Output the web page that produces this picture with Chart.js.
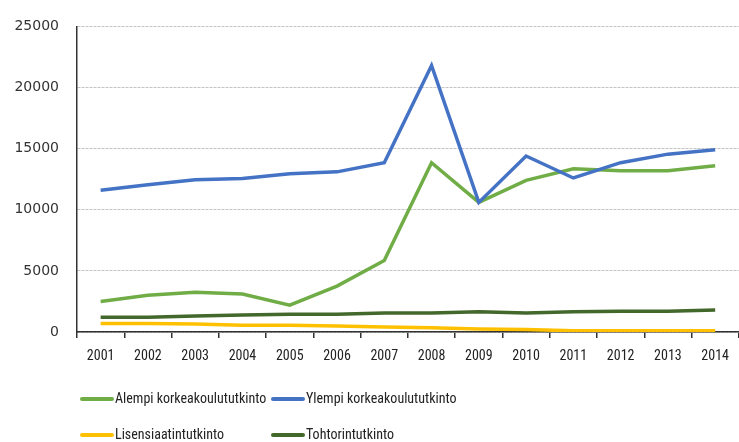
<!DOCTYPE html>
<html><head><meta charset="utf-8">
<script src="https://cdn.jsdelivr.net/npm/chart.js@4/dist/chart.umd.min.js"></script>
<style>html,body{margin:0;padding:0;background:#fff;}#wrap{width:739px;height:442px;position:relative;}</style>
</head><body><div id="wrap"><canvas id="c" width="739" height="442"></canvas></div>
<script>
const years = ['2001','2002','2003','2004','2005','2006','2007','2008','2009','2010','2011','2012','2013','2014'];
const alempi = [2500,3000,3250,3100,2200,3750,5850,13850,10600,12400,13350,13200,13200,13600];
const ylempi = [11600,12050,12450,12550,12950,13100,13850,21800,10600,14400,12600,13850,14550,14900];
const lisensiaatti = [700,700,650,550,550,500,400,350,250,200,100,100,100,100];
const tohtori = [1200,1200,1300,1400,1450,1450,1550,1550,1650,1550,1650,1700,1700,1800];
const seriesNames = ['Alempi korkeakoulututkinto','Ylempi korkeakoulututkinto','Lisensiaatintutkinto','Tohtorintutkinto'];
const seriesColors = ['#70AD47','#4472C4','#FFC000','#43682B'];
const seriesOrder = [1, 0, 3, 2];
const yTicks = [0,5000,10000,15000,20000,25000];

const narrow = "'Roboto Condensed','DejaVu Sans Condensed',sans-serif";

const legendPlugin = {
  id: 'gridLegend',
  afterDraw(chart) {
    const ctx = chart.ctx;
    const ca = chart.chartArea;
    const cols = [ca.left + 5, ca.left + 196];
    const rows = [ca.bottom + 67, ca.bottom + 103];
    ctx.save();
    ctx.font = "14px " + narrow;
    ctx.textBaseline = 'middle';
    chart.data.datasets.forEach((ds, i) => {
      const x = cols[i % 2], y = rows[Math.floor(i / 2)];
      ctx.strokeStyle = ds.borderColor;
      ctx.lineWidth = 4;
      ctx.lineCap = 'round';
      ctx.beginPath(); ctx.moveTo(x, y); ctx.lineTo(x + 30, y); ctx.stroke();
      ctx.fillStyle = '#222';
      ctx.fillText(ds.label, x + 33, y);
    });
    ctx.restore();
  }
};

const mk = (i, data) => ({label: seriesNames[i], data, order: seriesOrder[i], borderColor: seriesColors[i], backgroundColor: seriesColors[i], borderWidth: 3.5, pointRadius: 0, tension: 0, fill: false});

new Chart(document.getElementById('c'), {
  type: 'line',
  data: {labels: years, datasets: [mk(0, alempi), mk(1, ylempi), mk(2, lisensiaatti), mk(3, tohtori)]},
  options: {
    responsive: false, animation: false,
    layout: {padding: {top: 25, right: 0, left: 0, bottom: 0}},
    plugins: {legend: {display: false}, tooltip: {enabled: false}},
    scales: {
      x: {
        offset: true,
        grid: {offset: true, drawOnChartArea: false, drawTicks: true, tickLength: 6, color: '#333', lineWidth: 1.5},
        border: {display: true, color: '#333', width: 1.5},
        ticks: {color: '#222', font: {family: narrow, size: 14}, padding: 10, maxRotation: 0, autoSkip: false},
        afterFit(s) { s.height = 110; }
      },
      y: {
        min: 0, max: 25000,
        afterBuildTicks(s) { s.ticks = yTicks.map(v => ({value: v})); },
        grid: {color: '#c4c4c4', lineWidth: 1, drawTicks: false},
        border: {display: true, color: '#333', width: 1.5, dash: [3, 1]},
        ticks: {color: '#333', font: {family: "'DejaVu Sans',sans-serif", size: 14}, padding: 18, callback: v => String(v)},
        afterFit(s) { s.width = 77; }
      }
    }
  },
  plugins: [legendPlugin]
});
</script></body></html>
